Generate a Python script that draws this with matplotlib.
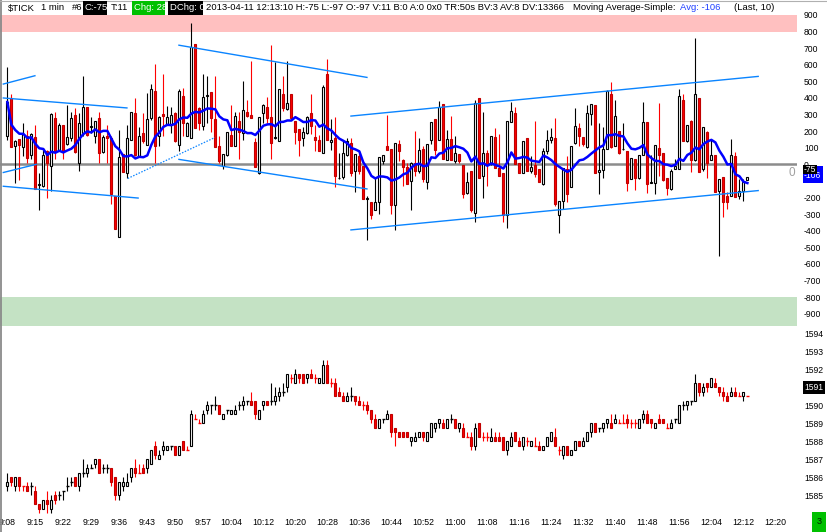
import numpy as np
import pandas as pd
import matplotlib
matplotlib.use("Agg")
import matplotlib.pyplot as plt
from matplotlib.patches import Rectangle
from matplotlib.lines import Line2D

plt.rcParams["font.family"] = ["Liberation Sans", "DejaVu Sans"]

# ==================================================
# Data: $TICK 1 min bars, 9:08 .. 12:13
# ==================================================
tick_open = [168, 402, 109, 152, 105, 168, 59, 164, -125, -133,
             79, -10, 277, 89, 238, 125, 158, 295, 10, 188,
             347, 228, 172, 281, 73, 168, 158, -188, -436, 63,
             -50, 148, 311, 53, 188, 119, 277, 445, 168, 303,
             238, 238, 307, 119, 410, 168, 158, 723, 337, 232,
             410, 436, 271, 109, -10, 59, 178, 113, 261, 188,
             317, 295, 133, -53, 307, 347, 287, 156, 139, 422,
             333, 426, 261, 216, 156, 188, 307, 162, 149, 69,
             545, 133, 158, -85, -79, 59, 129, -40, 53, -10,
             -210, -224, -277, -228, 20, 109, 93, -244, 125, 24,
             -14, -99, 10, -40, 93, -105, 145, 271, 149, 362,
             26, 152, 20, 63, -6, -172, -40, -291, 402, -69,
             69, 4, 164, -24, -55, -307, 257, 311, 10, -50,
             158, -40, -6, -30, -119, 79, 145, 158, -307, -218,
             -30, -139, 129, 218, 164, 105, 303, 360, -46, -34,
             93, 422, 109, 204, 93, 83, -89, 30, -85, 59,
             257, -112, -115, 99, 69, -83, -149, -30, -26, 390,
             139, 261, 26, 402, -30, 198, 26, 55, -158, -79,
             -188, -188, 50, -192, -158, -97]
tick_high = [584, 422, 148, 152, 248, 208, 188, 238, -50, 89,
             89, 311, 317, 248, 238, 356, 317, 337, 307, 535,
             347, 287, 263, 317, 178, 238, 168, -188, 208, 63,
             238, 317, 402, 228, 311, 430, 485, 604, 291, 545,
             350, 347, 317, 455, 461, 257, 850, 723, 347, 545,
             535, 436, 535, 172, 63, 198, 356, 317, 317, 505,
             386, 624, 158, 287, 366, 406, 719, 614, 455, 535,
             624, 426, 261, 216, 228, 291, 426, 238, 178, 479,
             634, 271, 287, 69, 139, 158, 158, 63, 79, -10,
             -192, -224, -79, 44, 59, 297, 93, 129, 148, 34,
             10, 14, 204, 158, 113, 125, 257, 271, 382, 366,
             208, 291, 168, 63, -6, -44, -40, 386, 402, 317,
             89, 168, 218, 184, -55, 263, 376, 347, 10, 139,
             158, 50, 263, -30, 99, 208, 218, 277, -218, -20,
             50, 109, 337, 248, 164, 356, 366, 360, 248, 228,
             449, 495, 386, 204, 248, 83, 40, 34, 59, 376,
             257, 59, 115, 372, 69, -83, -30, 34, 455, 426,
             238, 267, 762, 402, 224, 204, 148, 55, -89, -79,
             -164, 152, 73, -89, -89, -75]
tick_low = [147, 103, -113, -93, 50, 10, 30, -148, -273, -139,
            -202, -158, 34, 79, 34, 119, 139, 69, -40, 168,
            168, 188, 129, 10, 69, 10, -238, -390, -436, -46,
            -83, 148, 53, 50, 129, 119, 267, 10, 109, 168,
            238, 188, 135, 79, 168, 168, 158, 218, 208, 208,
            248, 198, 105, 10, -30, 50, 109, 113, 30, 148,
            287, 281, -14, -59, 248, 248, 30, 152, 139, 323,
            327, 277, 125, 53, 109, 184, 182, 79, 79, 69,
            145, 89, -139, -89, -89, 50, -69, -168, -59, -208,
            -455, -327, -277, -297, 0, 89, -297, -396, 20, -129,
            -119, -277, -69, -50, -109, -148, 125, 59, 145, 34,
            26, 26, 10, 10, -202, -178, -287, -347, -85, -204,
            -129, -6, -20, -69, -347, -386, 257, 0, -50, -53,
            -40, -50, -79, -109, -125, 65, 129, -248, -416, -267,
            -228, -139, 125, 109, 109, 99, 238, -50, -178, -85,
            93, 99, 109, 65, 89, -158, -89, -152, -89, 59,
            -172, -112, -178, -69, -99, -184, -152, -30, -30, 139,
            133, -46, 20, -46, -40, -85, 26, -164, -554, -317,
            -267, -188, -198, -208, -218, -97]
tick_close = [376, 103, 141, 119, 180, 40, 180, -148, -120, 57,
              10, 303, 79, 238, 79, 162, 281, 75, 251, 343,
              178, 234, 263, 69, 164, 158, -178, -390, 44, -46,
              158, 317, 59, 168, 139, 271, 455, 109, 287, 293,
              287, 295, 139, 442, 248, 251, 705, 218, 248, 406,
              416, 277, 105, 20, 63, 198, 113, 291, 198, 327,
              291, 281, -14, 287, 356, 277, 129, 164, 455, 337,
              372, 277, 192, 148, 198, 287, 234, 145, 79, 465,
              145, 149, -73, -80, 69, 139, -53, 63, -40, -208,
              -205, -307, -228, 44, 59, 89, -244, 129, 79, -16,
              -119, 10, -40, 89, -89, 125, 257, 89, 347, 34,
              152, 26, 69, 20, -178, -105, -277, 372, -85, 69,
              4, 168, -20, -69, -307, 263, 323, 0, -50, 139,
              -40, -16, -59, -109, 79, 148, 162, -238, -218, -20,
              -178, 109, 232, 168, 125, 307, 366, -50, -34, 93,
              445, 105, 291, 69, 95, -113, 40, -85, 55, 257,
              -119, -108, 115, 59, -93, -143, -40, -10, 410, 139,
              238, 26, 426, -46, 224, 10, 59, -164, -89, -228,
              -228, 59, -198, -158, -105, -75]

# ES 1 min bars, same minutes
es_open = [1585.5, 1586.0, 1585.5, 1586.0, 1585.5, 1585.5, 1585.5, 1585.25, 1584.5, 1584.25,
           1584.75, 1584.25, 1585.0, 1585.0, 1585.25, 1585.5, 1585.75, 1586.0, 1585.5, 1586.25,
           1586.25, 1586.5, 1586.75, 1587.0, 1586.5, 1586.5, 1586.5, 1586.0, 1585.0, 1585.5,
           1585.5, 1586.0, 1586.5, 1586.25, 1586.5, 1586.5, 1586.75, 1587.75, 1587.0, 1587.5,
           1587.5, 1587.75, 1587.75, 1587.25, 1588.0, 1587.5, 1587.75, 1589.25, 1589.0, 1589.0,
           1589.75, 1590.0, 1590.0, 1590.0, 1589.25, 1589.75, 1589.5, 1589.5, 1590.0, 1590.0,
           1590.25, 1590.25, 1590.25, 1589.25, 1590.0, 1590.25, 1590.25, 1590.25, 1590.5, 1590.75,
           1591.0, 1591.5, 1591.25, 1591.75, 1591.75, 1591.5, 1591.75, 1591.5, 1591.25, 1591.25,
           1592.25, 1591.25, 1591.25, 1590.75, 1590.5, 1590.25, 1590.5, 1590.5, 1590.25, 1590.0,
           1590.0, 1589.75, 1589.25, 1588.75, 1589.25, 1589.25, 1589.5, 1588.75, 1588.5, 1588.5,
           1588.5, 1588.0, 1588.0, 1588.25, 1588.5, 1588.0, 1588.25, 1588.75, 1589.0, 1589.0,
           1588.75, 1589.25, 1589.25, 1588.75, 1588.75, 1588.25, 1588.25, 1587.75, 1589.0, 1588.25,
           1588.25, 1588.0, 1588.25, 1588.25, 1588.25, 1587.5, 1587.75, 1588.5, 1588.0, 1587.75,
           1588.0, 1587.75, 1587.75, 1587.75, 1587.5, 1587.75, 1588.0, 1588.25, 1587.5, 1587.25,
           1587.75, 1587.25, 1587.5, 1588.0, 1587.75, 1588.0, 1588.5, 1589.0, 1588.75, 1588.75,
           1589.0, 1589.0, 1589.0, 1589.0, 1589.0, 1589.25, 1589.0, 1589.0, 1588.75, 1589.25,
           1589.5, 1589.25, 1588.75, 1589.25, 1589.25, 1588.75, 1588.75, 1589.25, 1589.0, 1590.0,
           1590.0, 1590.25, 1590.25, 1591.25, 1590.75, 1591.25, 1591.0, 1591.25, 1591.0, 1590.75,
           1590.5, 1590.5, 1590.75, 1590.5, 1590.5, 1590.5]
es_high = [1586.25, 1586.0, 1586.0, 1586.0, 1585.5, 1585.75, 1585.75, 1585.5, 1584.5, 1584.75,
           1585.25, 1585.0, 1585.25, 1585.25, 1585.25, 1586.0, 1586.0, 1586.0, 1586.25, 1587.0,
           1586.75, 1586.75, 1587.0, 1587.0, 1586.75, 1586.75, 1586.5, 1586.0, 1585.75, 1586.0,
           1586.25, 1586.5, 1587.0, 1586.75, 1586.75, 1587.0, 1587.5, 1588.0, 1587.5, 1588.0,
           1587.75, 1587.75, 1587.75, 1587.75, 1588.0, 1587.75, 1589.75, 1589.5, 1589.25, 1589.75,
           1590.25, 1590.0, 1590.5, 1590.0, 1589.5, 1589.75, 1589.75, 1590.0, 1590.25, 1590.5,
           1590.25, 1590.75, 1590.25, 1589.75, 1590.25, 1590.25, 1591.25, 1591.0, 1591.0, 1591.25,
           1591.75, 1591.75, 1592.0, 1591.75, 1591.75, 1591.75, 1592.0, 1591.75, 1591.5, 1592.5,
           1592.5, 1591.5, 1591.5, 1591.0, 1590.75, 1590.75, 1591.0, 1590.5, 1590.5, 1590.25,
           1590.25, 1589.75, 1589.5, 1589.25, 1589.25, 1589.75, 1589.5, 1588.75, 1588.5, 1588.5,
           1588.5, 1588.25, 1588.5, 1588.5, 1588.5, 1588.5, 1589.0, 1589.0, 1589.25, 1589.25,
           1589.25, 1589.5, 1589.25, 1589.0, 1589.0, 1588.5, 1588.5, 1589.0, 1589.0, 1588.5,
           1588.5, 1588.75, 1588.5, 1588.5, 1588.25, 1588.0, 1588.5, 1588.5, 1588.25, 1588.25,
           1588.25, 1588.0, 1588.25, 1588.0, 1587.75, 1588.25, 1588.5, 1588.75, 1587.75, 1587.75,
           1587.75, 1587.5, 1588.0, 1588.0, 1588.25, 1588.5, 1589.0, 1589.0, 1588.75, 1589.0,
           1589.25, 1589.5, 1589.5, 1589.25, 1589.5, 1589.5, 1589.25, 1589.25, 1589.25, 1589.75,
           1589.75, 1589.25, 1589.0, 1589.5, 1589.25, 1589.0, 1589.25, 1589.25, 1590.0, 1590.25,
           1590.25, 1590.25, 1591.75, 1591.25, 1591.25, 1591.25, 1591.5, 1591.5, 1591.0, 1591.0,
           1590.75, 1591.0, 1591.0, 1590.75, 1590.75, 1590.5]
es_low = [1585.25, 1585.5, 1585.25, 1585.25, 1585.25, 1585.25, 1585.0, 1584.5, 1584.0, 1584.25,
          1584.0, 1584.0, 1584.5, 1584.75, 1584.75, 1585.25, 1585.5, 1585.5, 1585.25, 1586.0,
          1586.0, 1586.5, 1586.5, 1586.25, 1586.25, 1586.25, 1585.5, 1584.75, 1584.75, 1585.25,
          1585.5, 1585.75, 1586.0, 1586.25, 1586.25, 1586.25, 1586.75, 1587.0, 1587.0, 1587.25,
          1587.5, 1587.5, 1587.25, 1587.25, 1587.5, 1587.5, 1587.75, 1589.25, 1589.0, 1589.0,
          1589.5, 1589.5, 1589.75, 1589.5, 1589.25, 1589.5, 1589.5, 1589.5, 1589.75, 1589.75,
          1590.0, 1590.0, 1589.25, 1589.25, 1589.75, 1590.0, 1590.0, 1590.0, 1590.25, 1590.5,
          1590.75, 1591.25, 1591.25, 1591.25, 1591.25, 1591.25, 1591.5, 1591.25, 1591.25, 1591.25,
          1591.25, 1591.0, 1590.5, 1590.5, 1590.25, 1590.25, 1590.25, 1590.0, 1590.0, 1589.75,
          1589.5, 1589.0, 1588.75, 1588.75, 1589.0, 1589.25, 1588.25, 1587.75, 1588.25, 1588.25,
          1588.25, 1587.75, 1588.0, 1588.25, 1588.0, 1588.0, 1588.25, 1588.5, 1588.75, 1588.75,
          1588.75, 1589.0, 1588.75, 1588.5, 1588.25, 1588.25, 1587.5, 1587.5, 1588.25, 1588.0,
          1588.0, 1588.0, 1588.0, 1588.0, 1587.5, 1587.25, 1587.75, 1588.0, 1587.75, 1587.5,
          1587.75, 1587.75, 1587.75, 1587.5, 1587.5, 1587.75, 1588.0, 1587.75, 1587.25, 1587.0,
          1587.25, 1587.25, 1587.5, 1587.75, 1587.75, 1588.0, 1588.25, 1588.5, 1588.5, 1588.5,
          1588.75, 1588.75, 1589.0, 1589.0, 1589.0, 1588.75, 1588.75, 1588.75, 1588.75, 1589.0,
          1589.0, 1588.75, 1588.75, 1589.0, 1589.0, 1588.75, 1588.75, 1589.0, 1589.0, 1589.75,
          1589.75, 1590.0, 1590.25, 1590.5, 1590.5, 1590.75, 1591.0, 1591.0, 1590.5, 1590.25,
          1590.25, 1590.5, 1590.5, 1590.5, 1590.25, 1590.5]
es_close = [1585.75, 1585.75, 1586.0, 1585.5, 1585.5, 1585.25, 1585.5, 1584.5, 1584.25, 1584.75,
            1584.5, 1584.75, 1584.75, 1585.0, 1585.25, 1585.5, 1585.75, 1585.5, 1586.25, 1586.25,
            1586.5, 1586.5, 1587.0, 1586.25, 1586.5, 1586.5, 1585.75, 1585.0, 1585.75, 1585.75,
            1585.75, 1586.5, 1586.25, 1586.25, 1586.25, 1587.0, 1587.5, 1587.25, 1587.25, 1587.75,
            1587.75, 1587.75, 1587.25, 1587.75, 1587.5, 1587.5, 1589.5, 1589.25, 1589.0, 1589.5,
            1590.0, 1590.0, 1590.0, 1589.5, 1589.5, 1589.75, 1589.75, 1589.75, 1590.0, 1590.25,
            1590.25, 1590.0, 1589.5, 1589.75, 1590.25, 1590.0, 1590.25, 1590.5, 1590.75, 1590.75,
            1591.75, 1591.5, 1591.75, 1591.5, 1591.25, 1591.75, 1591.5, 1591.5, 1591.5, 1592.25,
            1591.25, 1591.25, 1590.5, 1590.5, 1590.25, 1590.5, 1590.5, 1590.25, 1590.0, 1590.0,
            1589.75, 1589.25, 1588.75, 1589.25, 1589.25, 1589.5, 1588.5, 1588.5, 1588.25, 1588.25,
            1588.25, 1588.25, 1588.25, 1588.5, 1588.25, 1588.5, 1589.0, 1589.0, 1589.25, 1588.75,
            1589.25, 1589.25, 1588.75, 1589.0, 1588.25, 1588.25, 1587.75, 1588.75, 1588.25, 1588.25,
            1588.25, 1588.25, 1588.0, 1588.0, 1587.5, 1588.0, 1588.25, 1588.0, 1587.75, 1588.25,
            1588.0, 1588.0, 1587.75, 1587.5, 1587.75, 1588.25, 1588.5, 1587.75, 1587.5, 1587.75,
            1587.25, 1587.5, 1588.0, 1587.75, 1588.0, 1588.5, 1589.0, 1588.5, 1588.75, 1589.0,
            1589.25, 1588.75, 1589.25, 1589.0, 1589.0, 1589.0, 1589.0, 1589.0, 1589.25, 1589.5,
            1589.0, 1589.0, 1589.0, 1589.0, 1589.0, 1588.75, 1589.0, 1589.25, 1590.0, 1590.0,
            1590.25, 1590.25, 1591.25, 1590.75, 1591.0, 1591.0, 1591.5, 1591.0, 1590.75, 1590.5,
            1590.25, 1590.75, 1590.5, 1590.5, 1590.75, 1590.5]

# hand drawn trend lines on the TICK panel (bar index, tick value)
trend_x0 = [-1, -1, -1, -1, 30.1, 42.9, 42.9, 85.9, 85.9]
trend_y0 = [484, 400, -49, -132, -85, 718, 30, 291, -395]
trend_x1 = [6.9, 29.9, 7.2, 32.7, 51.9, 89.9, 89.9, 187.7, 187.7]
trend_y1 = [534, 340, 0, -203, 162, 524, -148, 530, -158]
trend_dotted = [False, False, False, False, True, False, False, False, False]

time_labels = ["9:08", "9:15", "9:22", "9:29", "9:36", "9:43", "9:50", "9:57",
               "10:04", "10:12", "10:20", "10:28", "10:36", "10:44", "10:52",
               "11:00", "11:08", "11:16", "11:24", "11:32", "11:40", "11:48",
               "11:56", "12:04", "12:12", "12:20"]
tick_levels = [v for v in range(-900, 901, 100) if v != -100]
es_levels = [1585, 1586, 1587, 1588, 1589, 1590, 1592, 1593, 1594]
ma_len = 10


# ==================================================
# Helpers
# ==================================================
W, H = 827, 532


def fx(x):
    return x / W


def fy(y):
    return 1 - y / H


def draw_candles(ax, o, h, l, c, body_w=0.5):
    o, h, l, c = (np.asarray(a, dtype=float) for a in (o, h, l, c))
    h = np.maximum(h, np.maximum(o, c))
    l = np.minimum(l, np.minimum(o, c))
    n = len(o)
    x = np.arange(n)
    up = np.ones(n, dtype=bool)
    for i in range(n):
        if c[i] != o[i]:
            up[i] = c[i] > o[i]
        elif i > 0:
            if c[i] > c[i - 1]:
                up[i] = True
            elif c[i] < c[i - 1]:
                up[i] = False
            else:
                up[i] = up[i - 1]
    wick_col = np.where(up, "black", "red")
    ax.vlines(x, l, h, colors=wick_col, linewidth=0.8, zorder=3)
    body = c != o
    face = np.where(up, "white", "#ff0000")
    edge = np.where(up, "black", "#c00000")
    ax.bar(x[body], np.abs(c - o)[body], bottom=np.minimum(o, c)[body],
           width=body_w, color=face[body], edgecolor=edge[body],
           linewidth=0.8, zorder=4)
    ax.hlines(c[~body], x[~body] - body_w / 2 - 0.12, x[~body] + body_w / 2 + 0.12,
              colors=wick_col[~body], linewidth=1.0, zorder=4)


def style_axes(ax):
    for s in ax.spines.values():
        s.set_visible(False)
    ax.yaxis.tick_right()
    ax.tick_params(axis="y", length=0, pad=5, labelsize=6.2, colors="black")
    ax.set_xlim(-1.83, 197.4)


def box_text(x0, x1, y0, y1, txt, face, color="white", tx=None, z=5):
    fig.add_artist(Rectangle((fx(x0), fy(y1)), fx(x1) - fx(x0), fy(y0) - fy(y1),
                             transform=fig.transFigure, facecolor=face,
                             edgecolor="none", zorder=z))
    fig.text(fx(tx if tx is not None else x0 + 1.5), fy((y0 + y1) / 2), txt,
             color=color, fontsize=6.8, va="center", ha="left", zorder=z + 0.5)


# ==================================================
# Figure
# ==================================================
fig = plt.figure(figsize=(W / 100, H / 100), dpi=100)
ax1 = fig.add_axes([0, fy(326), fx(797), (326 - 15) / H])
ax2 = fig.add_axes([0, fy(514), fx(797), (514 - 328) / H])

# ---- TICK panel
style_axes(ax1)
ax1.set_ylim(-974, 870)
ax1.axhspan(800, 1000, color="#ffc0c0", zorder=0, lw=0)
ax1.axhspan(-1000, -800, color="#c4e2c4", zorder=0, lw=0)
ax1.axhline(0, color="#8c8c8c", linewidth=1.8, zorder=2)
draw_candles(ax1, tick_open, tick_high, tick_low, tick_close)

ma = pd.Series(tick_close, dtype=float).rolling(ma_len, min_periods=1).mean()
ax1.plot(np.arange(len(ma)), ma.values, color="#0000ff", linewidth=1.8, zorder=6)

for x0, y0, x1, y1, dotted in zip(trend_x0, trend_y0, trend_x1, trend_y1, trend_dotted):
    ax1.plot([x0, x1], [y0, y1], color="#0a84ff",
             linewidth=0.9 if dotted else 1.0,
             linestyle=(0, (1.2, 1.2)) if dotted else "-", zorder=7)

ax1.set_yticks(tick_levels)
ax1.set_yticklabels([str(v) for v in tick_levels])
ax1.set_xticks([])
ax1.annotate("0", xy=(1, 0), xycoords=("axes fraction", "data"),
             xytext=(-1, -2), textcoords="offset points", ha="right", va="top",
             fontsize=8.5, color="#a0a0a0")

# ---- ES panel
style_axes(ax2)
ax2.set_ylim(1583.96, 1594.29)
draw_candles(ax2, es_open, es_high, es_low, es_close)
ax2.set_yticks(es_levels)
ax2.set_yticklabels([str(v) for v in es_levels])

tick_pos = []
for t in time_labels:
    hh, mm = t.split(":")
    tick_pos.append(int(hh) * 60 + int(mm) - (9 * 60 + 8))
ax2.set_xticks(tick_pos)
ax2.set_xticklabels(time_labels)
ax2.tick_params(axis="x", length=0, pad=3, labelsize=6.3)

# ---- borders
fig.add_artist(Line2D([fx(0.8), fx(0.8)], [0, 1], transform=fig.transFigure,
                      color="#8a8a8a", linewidth=1.3))
fig.add_artist(Line2D([0, 1], [fy(0.5), fy(0.5)], transform=fig.transFigure,
                      color="#b0b0b0", linewidth=0.8))

# ---- header
hy = 8
for x, txt in [(8.3, "$TICK"), (40.7, "1 min"), (72, "#6"), (111, "T:11"),
               (206, "2013-04-11 12:13:10 H:-75 L:-97 O:-97 V:11 B:0 A:0 0x0 "
                     "TR:50s BV:3 AV:8 DV:13366"),
               (573, "Moving Average-Simple:"), (734, "(Last, 10)")]:
    fig.text(fx(x), fy(hy), txt, fontsize=6.8, va="center", ha="left")
fig.text(fx(680), fy(hy), "Avg: -106", fontsize=6.8, va="center", ha="left",
         color="#1f3fff")
box_text(83, 107, 1, 15, "C:-75", "black")
box_text(132, 165, 1, 15, "Chg: 28", "#00c000")
dchg = fig.text(fx(169.5), fy(hy), "DChg: 0", color="white", fontsize=6.8,
                va="center", ha="left", zorder=5.5)
clip = Rectangle((fx(168), fy(15)), fx(203) - fx(168), fy(1) - fy(15),
                 transform=fig.transFigure, facecolor="black", edgecolor="none",
                 zorder=5)
fig.add_artist(clip)
dchg.set_clip_path(clip)

# ---- last value markers on the right scale
fig.add_artist(Rectangle((fx(803), fy(183)), fx(823) - fx(803), fy(166) - fy(183),
                         transform=fig.transFigure, facecolor="#0000ff",
                         edgecolor="none", zorder=5))
fig.text(fx(804), fy(176), "-106", color="white", fontsize=6.2, va="center",
         ha="left", zorder=5.5)
fig.add_artist(Rectangle((fx(803), fy(174)), fx(817) - fx(803), fy(165) - fy(174),
                         transform=fig.transFigure, facecolor="black",
                         edgecolor="none", zorder=6))
fig.text(fx(804), fy(169.5), "-75", color="white", fontsize=6.2, va="center",
         ha="left", zorder=6.5)

fig.add_artist(Rectangle((fx(803), fy(394)), fx(825) - fx(803), fy(381) - fy(394),
                         transform=fig.transFigure, facecolor="black",
                         edgecolor="none", zorder=5))
fig.text(fx(804), fy(387.5), "1591", color="white", fontsize=6.2, va="center",
         ha="left", zorder=5.5)

fig.add_artist(Rectangle((fx(812), fy(532)), fx(826) - fx(812), fy(512) - fy(532),
                         transform=fig.transFigure, facecolor="#00c000",
                         edgecolor="none", zorder=5))
fig.text(fx(819), fy(522), "3", color="#002000", fontsize=6.5, va="center",
         ha="center", zorder=5.5)

fig.savefig("out.png", dpi=100)
